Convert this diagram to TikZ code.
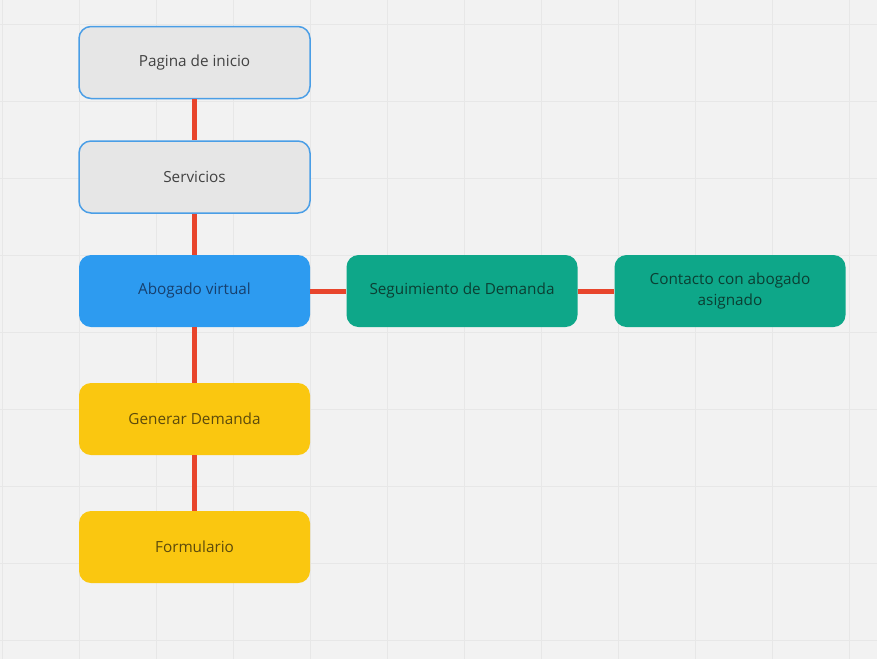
\documentclass[tikz,border=0pt]{standalone}
\usepackage{fontspec}
\setmainfont{Open Sans}
\definecolor{canvas}{HTML}{F2F2F2}
\definecolor{gridline}{HTML}{E7E7E7}
\definecolor{greyfill}{HTML}{E6E6E6}
\definecolor{blueedge}{HTML}{4A9EE6}
\definecolor{bluefill}{HTML}{2D9BF0}
\definecolor{bluetext}{HTML}{17406E}
\definecolor{greenfill}{HTML}{0EA789}
\definecolor{greentext}{HTML}{0B3F33}
\definecolor{yellowfill}{HTML}{FAC710}
\definecolor{yellowtext}{HTML}{5C4A0C}
\definecolor{darktext}{HTML}{424242}
\definecolor{linkred}{HTML}{E8452C}
\tikzset{
  card/.style={rounded corners=12pt, minimum width=231pt, minimum height=72pt,
    inner sep=0pt, align=center, font=\fontsize{15.3pt}{21pt}\selectfont},
  greycard/.style={card, fill=greyfill, draw=blueedge, line width=1.5pt, text=darktext},
  bluecard/.style={card, fill=bluefill, text=bluetext},
  greencard/.style={card, fill=greenfill, text=greentext},
  yellowcard/.style={card, fill=yellowfill, text=yellowtext},
  link/.style={draw=linkred, line width=5pt}
}
\begin{document}
\begin{tikzpicture}[x=1pt, y=-1pt]
  % canvas and background grid
  \fill[canvas] (0,0) rectangle (877,659);
  \useasboundingbox (0,0) rectangle (877,659);
  \foreach \gx in {2,79,...,849} \draw[gridline, line width=1pt] (\gx,0) -- (\gx,659);
  \foreach \gy in {24,101,...,640} \draw[gridline, line width=1pt] (0,\gy) -- (877,\gy);

  % cards
  \node[greycard]   (inicio)      at (194.5,62.5)  {Pagina de inicio};
  \node[greycard]   (servicios)   at (194.5,177)   {Servicios};
  \node[bluecard]   (abogado)     at (194.5,291)   {Abogado virtual};
  \node[greencard]  (seguimiento) at (462,291)     {Seguimiento de Demanda};
  \node[greencard]  (contacto)    at (730,291)     {Contacto con abogado\\asignado};
  \node[yellowcard] (generar)     at (194.5,419)   {Generar Demanda};
  \node[yellowcard] (formulario)  at (194.5,547)   {Formulario};

  % links between cards
  \draw[link] (inicio.south) -- (servicios.north);
  \draw[link] (servicios.south) -- (abogado.north);
  \draw[link] (abogado.south) -- (generar.north);
  \draw[link] (generar.south) -- (formulario.north);
  \draw[link] (abogado.east) -- (seguimiento.west);
  \draw[link] (seguimiento.east) -- (contacto.west);
\end{tikzpicture}
\end{document}
